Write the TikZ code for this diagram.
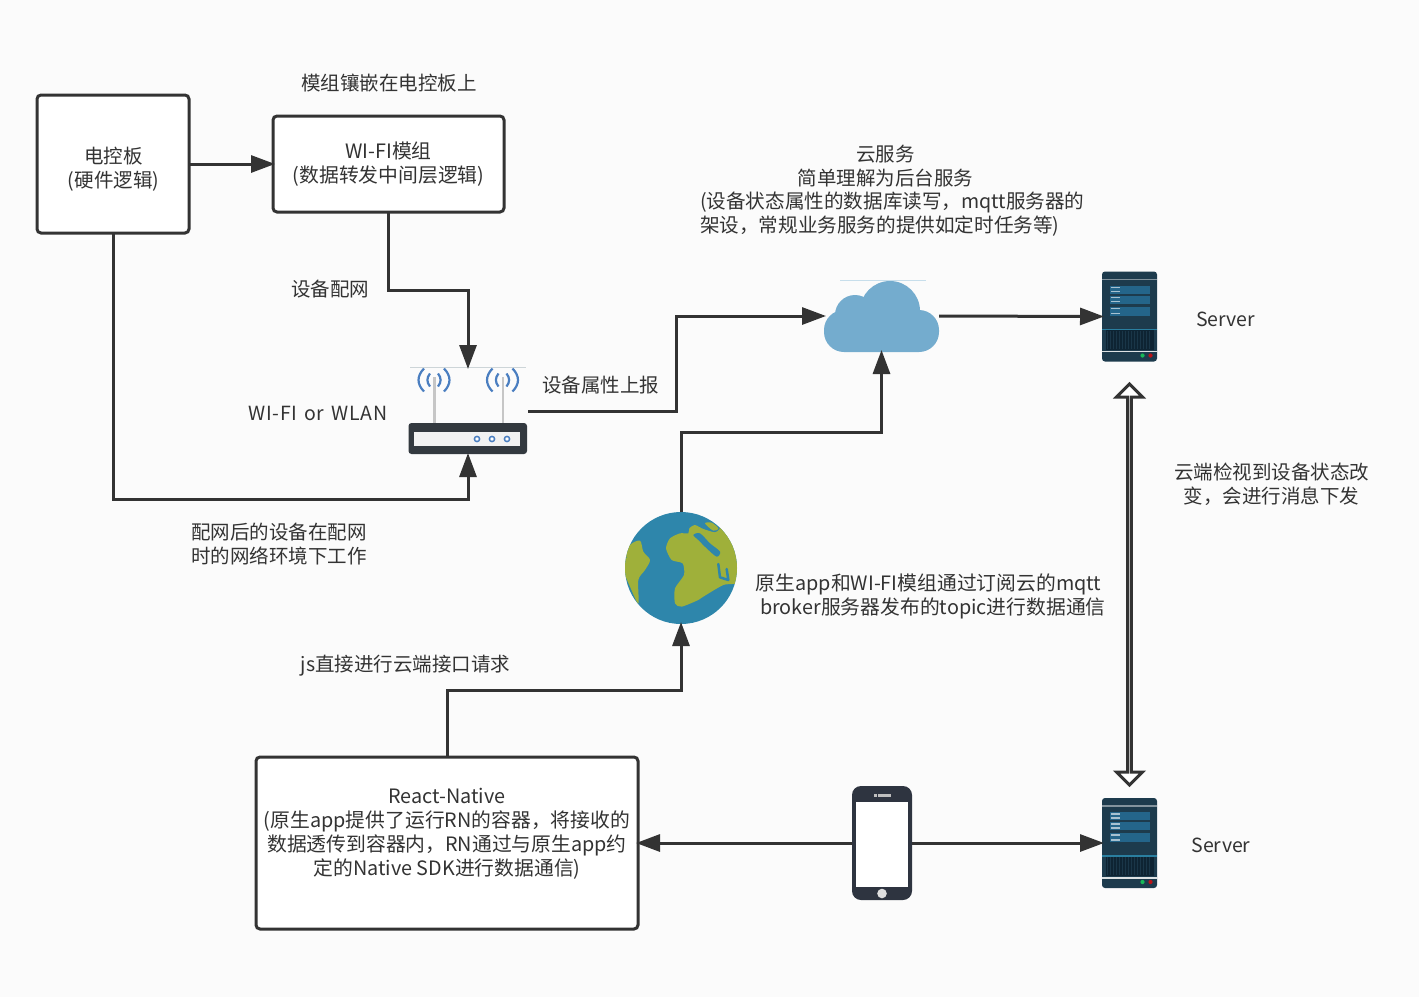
\documentclass[tikz,border=0pt]{standalone}
\usepackage{fontspec}
\setmainfont{Noto Sans CJK SC}
\usetikzlibrary{arrows.meta,shapes.arrows,calc}
\definecolor{ink}{HTML}{333333}
\definecolor{bgc}{HTML}{FBFBFB}
\definecolor{srvc}{HTML}{1D3B4D}
\definecolor{srvp}{HTML}{24658A}
\definecolor{srvl}{HTML}{2A7FA0}
\definecolor{srvv}{HTML}{0E2433}
\definecolor{cloudc}{HTML}{74ACCE}
\definecolor{oceanc}{HTML}{2E86AB}
\definecolor{landc}{HTML}{9FB03A}
\definecolor{routerc}{HTML}{33393F}
\definecolor{wavec}{HTML}{4A7EC0}
\definecolor{phonec}{HTML}{2E3440}
\tikzset{
  every node/.style={outer sep=0pt,inner sep=0pt,text=ink},
  lbl/.style={font=\fontsize{19.5}{24}\selectfont,align=center,yshift=-0.5pt},
  lblm/.style={font=\fontsize{19.8}{24}\selectfont,align=center,yshift=-0.5pt},
  lbll/.style={font=\fontsize{19.5}{24}\selectfont,align=left,yshift=-0.5pt},
  boxn/.style={draw=ink,line width=3pt,fill=white,rounded corners=4pt},
  iconbox/.style={rectangle,draw=none,fill=none},
  conn/.style={draw=ink,line width=3pt,-{Triangle[length=24pt,width=17pt]},shorten >=-2pt},
  pics/serverpic/.style={code={
    \fill[srvc,rounded corners=3pt] (-27.5,-45) rectangle (27.5,45);
    \fill[white!45!srvc] (-27.5,-38) rectangle (27.5,-36.5);
    \foreach \a/\b in {-31/-23,-21/-13,-10/-1}{
      \fill[srvp] (-20,\a) rectangle (20,\b);
      \fill[white!60!srvp] (-19,\a+1.2) rectangle (-10,\a+2.8);
      \fill[white!60!srvp] (-19,\b-3) rectangle (-10,\b-1.4);
    }
    \fill[srvl] (-27.5,12) rectangle (27.5,13.5);
    \fill[srvv] (-24,13.5) rectangle (24,33);
    \foreach \i in {-22,-19,...,22}{\draw[srvc!80!srvv,line width=.7pt] (\i,14) -- (\i,32);}
    \fill[white!85!srvc] (-27.5,34) rectangle (27.5,35.5);
    \fill[green!45!srvl] (13,39) circle (2.1);
    \fill[red!70!srvc] (21,39) circle (2.1);
  }}
}
\begin{document}
\begin{tikzpicture}[x=1pt,y=-1pt]
\useasboundingbox (0,0) rectangle (1419,997);
\fill[bgc] (0,0) rectangle (1419,997);

% boxes
\node[boxn,minimum width=152,minimum height=138] (board) at (113,164) {};
\node[lbl] (boardtext) at (113.5,168.5) {电控板\\(硬件逻辑)};
\node[boxn,minimum width=231,minimum height=96] (module) at (388.5,164) {};
\node[lblm] (moduletext) at (388.5,163.5) {WI-FI模组\\(数据转发中间层逻辑)};
\node[boxn,minimum width=382,minimum height=172] (rn) at (447,843) {};
\node[lblm,anchor=north] (rntext) at (447,788) {React-Native\\(原生app提供了运行RN的容器，将接收的\\数据透传到容器内，RN通过与原生app约\\定的Native SDK进行数据通信)};

% icon anchors
\node[iconbox,minimum width=120,minimum height=88] (router) at (468,411) {};
\node[iconbox,minimum width=115,minimum height=72] (cloud) at (881.5,316) {};
\node[circle,fill=oceanc,minimum size=112] (globe) at (681,568) {};
\node[iconbox,minimum width=55,minimum height=90] (srvA) at (1129.5,316.5) {};
\node[iconbox,minimum width=55,minimum height=90] (srvB) at (1129.5,843) {};
\node[iconbox,minimum width=60,minimum height=114] (phone) at (882,843) {};

% router
\draw[cyan!15!gray!40,line width=.8pt] (410,367) -- (526,367);
\draw[gray!45,line width=2.5pt] (434.5,377) -- (434.5,423);
\draw[gray!45,line width=2.5pt] (503,377) -- (503,423);
\foreach \cx in {434,502.5}{
  \draw[wavec,line width=2.2pt] (\cx-10,368.5) .. controls (\cx-17.3,376) and (\cx-17.3,384) .. (\cx-10,391.5);
  \draw[wavec,line width=2.2pt] (\cx+10,368.5) .. controls (\cx+17.3,376) and (\cx+17.3,384) .. (\cx+10,391.5);
  \draw[wavec,line width=2.2pt] (\cx-4,373.5) .. controls (\cx-7.5,378) and (\cx-7.5,382) .. (\cx-4,386.5);
  \draw[wavec,line width=2.2pt] (\cx+4,373.5) .. controls (\cx+7.5,378) and (\cx+7.5,382) .. (\cx+4,386.5);
}
\fill[routerc,rounded corners=3pt] (408.5,423) rectangle (527,454);
\fill[gray!10] (414,432) rectangle (520,446);
\foreach \dx in {477,492,507}{\draw[wavec,line width=1.5pt,fill=white] (\dx,439) circle (2.6);}

% cloud
\draw[cloudc!40,line width=.8pt] (840,280.5) -- (926,280.5);
\fill[cloudc] (890,311) circle (30);
\fill[cloudc] (855,315) circle (20);
\fill[cloudc,rounded corners=20pt] (824,310) rectangle (939,352);

% globe
\begin{scope}
\clip (globe.center) circle (56);
\begin{scope}[shift={(610,500)},x=0.3333pt,y=-0.3333pt]
\fill[landc] plot[smooth cycle,tension=.5] coordinates {(40,175) (60,135) (90,122) (100,155) (120,180) (105,210) (85,240) (85,310) (60,260) (40,210)};
\fill[landc] plot[smooth cycle,tension=.4] coordinates {(168,145) (180,115) (210,100) (235,100) (238,85) (255,75) (280,87) (315,97) (328,88) (340,75) (400,105) (400,240) (340,255) (280,290) (265,300) (215,320) (195,310) (195,265) (222,225) (218,190) (185,180)};
\fill[landc] plot[smooth cycle,tension=.5] coordinates {(285,70) (305,68) (325,85) (310,92)};
\fill[oceanc] plot[smooth cycle,tension=.5] coordinates {(250,105) (270,100) (300,130) (330,155) (320,170) (290,145) (265,120)};
\draw[oceanc,line width=2.5pt,line cap=round,line join=round] (325,192) -- (330,232) -- (355,240) -- (350,207);
\fill[oceanc] (45,172) circle (5);
\end{scope}
\end{scope}

% server and phone
\pic at (srvA.center) {serverpic};
\pic at (srvB.center) {serverpic};
\fill[phonec,rounded corners=9pt] (852,786) rectangle (912,900);
\fill[white] (856,802) rectangle (908,887);
\fill[gray!50] (874,794) rectangle (876.5,796.5);
\fill[gray!50] (878,794) rectangle (891,796.5);
\fill[gray!25] (882,893.5) circle (4.8);

% connectors
\draw[conn] (board.east) -- (module.west);
\draw[conn] (module.south) -- ++(0,78) -| (router.north);
\draw[conn] (board.south) -- ++(0,266) -| (router.south);
\draw[conn] (router.east) -- ++(148,0) |- (cloud.west);
\draw[conn] (cloud.east) -- (srvA.west);
\draw[conn] (globe.north) -- ++(0,-80) -| (cloud.south);
\draw[conn] (rn.north) -- ++(0,-67) -| (globe.south);
\draw[conn] (phone.west) -- (rn.east);
\draw[conn] (phone.east) -- (srvB.west);
\node[double arrow,draw=ink,line width=3pt,fill=white,shape border rotate=90,minimum width=26pt,minimum height=401pt,double arrow head extend=8.5pt,double arrow tip angle=90] (updown) at (1129.5,584.5) {};

% labels
\node[lbl] (t1) at (389,83) {模组镶嵌在电控板上};
\node[lbl] (t2) at (330,289) {设备配网};
\node[lbl] (t3) at (318,413) {\addfontfeature{LetterSpace=3.5}WI-FI\hspace{2pt} or\hspace{2pt} WLAN};
\node[lbl] (t4) at (600.5,385) {设备属性上报};
\node[lbll] (t5) at (279,544) {配网后的设备在配网\\时的网络环境下工作};
\node[lbl] (t6) at (885.5,166) {云服务\\简单理解为后台服务};
\node[font=\fontsize{19.6}{24}\selectfont,align=left,yshift=-0.5pt,anchor=west] (t7) at (700,214) {(设备状态属性的数据库读写，mqtt服务器的\\架设，常规业务服务的提供如定时任务等)};
\node[lbl] (t8) at (1225.5,319) {Server};
\node[lbl] (t9) at (1221,845) {Server};
\node[lbl] (t10) at (1271.5,484) {云端检视到设备状态改\\变，会进行消息下发};
\node[lblm] (t11) at (928.5,596) {原生app和WI-FI模组通过订阅云的mqtt\\\ \ broker服务器发布的topic进行数据通信};
\node[lbl] (t12) at (405.5,665) {js直接进行云端接口请求};
\end{tikzpicture}
\end{document}
